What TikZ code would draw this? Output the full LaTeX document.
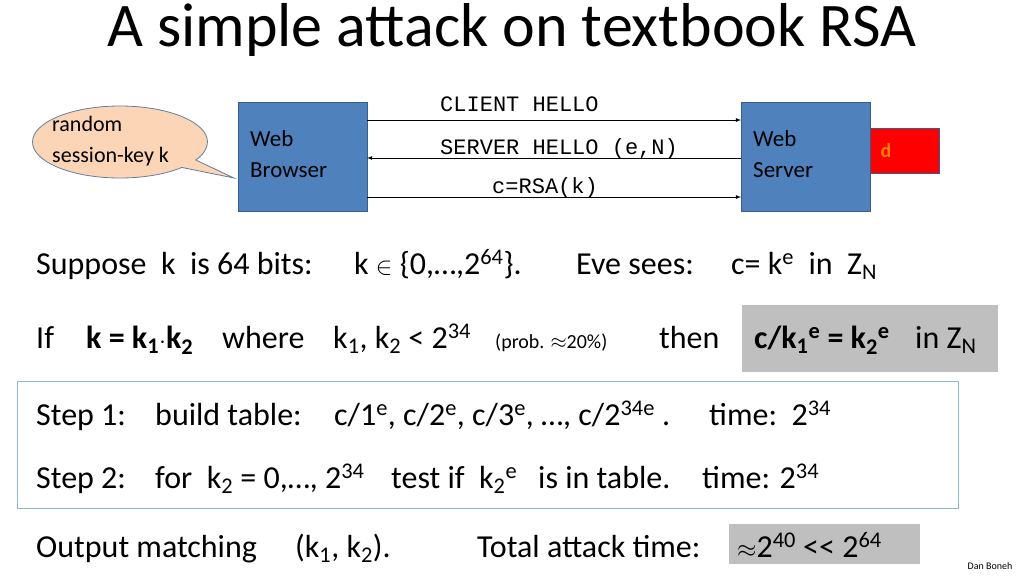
\documentclass[tikz,border=0pt]{standalone}
\usepackage{fontspec}
\setmainfont{Carlito}
\newfontfamily\monofont{Liberation Mono}
\usetikzlibrary{shapes.callouts}
\definecolor{boxblue}{HTML}{4F81BD}
\definecolor{boxedge}{HTML}{385D8A}
\definecolor{peach}{HTML}{FBD5B5}
\definecolor{lightedge}{HTML}{8EB4E3}
\tikzset{
  machine/.style={draw=boxedge, thick, fill=boxblue, minimum width=129pt, minimum height=109pt, inner sep=0pt},
  msg/.style={font=\monofont\fontsize{22}{26}\selectfont, inner sep=0pt, anchor=base west},
  line/.style={anchor=base west, inner sep=0pt, font=\fontsize{32}{36}\selectfont},
  greybox/.style={fill=black!25, draw=none}
}
\begin{document}
\begin{tikzpicture}[x=1pt, y=-1pt]
	\useasboundingbox (0,0) rectangle (1024,576);
	% Title
	\node (title) at (512,30) {\fontsize{62}{70}\selectfont A simple attack on textbook RSA};
	% The two machines
	\node[machine, anchor=north west] (browser) at (238,102) {};
	\node[anchor=north west, align=left, inner sep=0pt, font=\fontsize{23}{31}\selectfont] at (250,130) {Web\\Browser};
	\node[machine, anchor=north west] (server) at (741,102) {};
	\node[anchor=north west, align=left, inner sep=0pt, font=\fontsize{23}{31}\selectfont] at (753,130) {Web\\Server};
	\node[draw=boxedge, fill=red, anchor=north west, minimum width=69pt, minimum height=45pt] (key) at (870,128) {};
	\node[text=orange, font=\bfseries\fontsize{20}{24}\selectfont] at (886,151) {d};
	% The callout
	\node[ellipse callout, draw=lightedge!70!black, thick, fill=peach, minimum width=175pt, minimum height=72pt,
	      callout absolute pointer={(234,178)}] (bubble) at (120,142) {};
	\node[anchor=north west, align=left, inner sep=0pt, font=\fontsize{22}{31}\selectfont] at (52,116) {random\\session-key k};
	% Messages
	\coordinate (b1) at (367,120); \coordinate (s1) at (741,120);
	\coordinate (b2) at (367,158); \coordinate (s2) at (741,158);
	\coordinate (b3) at (367,197); \coordinate (s3) at (741,197);
	\draw[-latex, thick] (b1) -- (s1);
	\draw[-latex, thick] (s2) -- (b2);
	\draw[-latex, thick] (b3) -- (s3);
	\node[msg] (hello) at (440,111) {CLIENT HELLO};
	\node[msg] (shello) at (440,154) {SERVER HELLO (e,N)};
	\node[msg] (cmsg) at (492,193) {c=RSA(k)};
	% Grey boxes and step frame
	\fill[greybox] (742,305) rectangle (998,372);
	\fill[greybox] (729,524) rectangle (920,564);
	\draw[lightedge, thick] (17,381) rectangle (958,508);
	% Line 1
	\node[line] at (36,274) {Suppose\ \ k\ \ is 64 bits:};
	\node[line] at (354,274) {k $\in$ \{0,\dots,2\textsuperscript{64}\}.};
	\node[line] at (576,274) {Eve sees:};
	\node[line] at (731,274) {c= k\textsuperscript{e}\ \ in\ \ Z\textsubscript{N}};
	% Line 2
	\node[line] at (36,348) {If};
	\node[line] at (86,348) {\textbf{k = k\textsubscript{1}$\cdot$k\textsubscript{2}}};
	\node[line] at (222,348) {where};
	\node[line] at (333,348) {k\textsubscript{1}, k\textsubscript{2} < 2\textsuperscript{34}};
	\node[line] at (495,348) {\fontsize{20}{22}\selectfont(prob. $\approx$20\%)};
	\node[line] at (659,348) {then};
	\node[line] at (754,348) {\textbf{c/k\textsubscript{1}\textsuperscript{e} = k\textsubscript{2}\textsuperscript{e}}};
	\node[line] at (915,348) {in\ Z\textsubscript{N}};
	% Line 3
	\node[line] at (36,425) {Step 1:};
	\node[line] at (155,425) {build table:};
	\node[line] at (334,425) {c/1\textsuperscript{e}, c/2\textsuperscript{e}, c/3\textsuperscript{e}, \dots, c/2\textsuperscript{34e}\ .};
	\node[line] at (709,425) {time:\ \ 2\textsuperscript{34}};
	% Line 4
	\node[line] at (36,488) {Step 2:};
	\node[line] at (155,488) {for\ \ k\textsubscript{2} = 0,\dots, 2\textsuperscript{34}};
	\node[line] at (391,488) {test if\ \ k\textsubscript{2}\textsuperscript{e}};
	\node[line] at (538,488) {is in table.};
	\node[line] at (702,488) {time: 2\textsuperscript{34}};
	% Line 5
	\node[line] at (36,557) {Output matching};
	\node[line] at (295,557) {(k\textsubscript{1}, k\textsubscript{2}).};
	\node[line] at (477,557) {Total attack time:};
	\node[line] at (737,557) {$\approx$2\textsuperscript{40} <{}< 2\textsuperscript{64}};
	\node[font=\fontsize{10}{12}\selectfont] (sig) at (990,566) {Dan Boneh};
\end{tikzpicture}
\end{document}
